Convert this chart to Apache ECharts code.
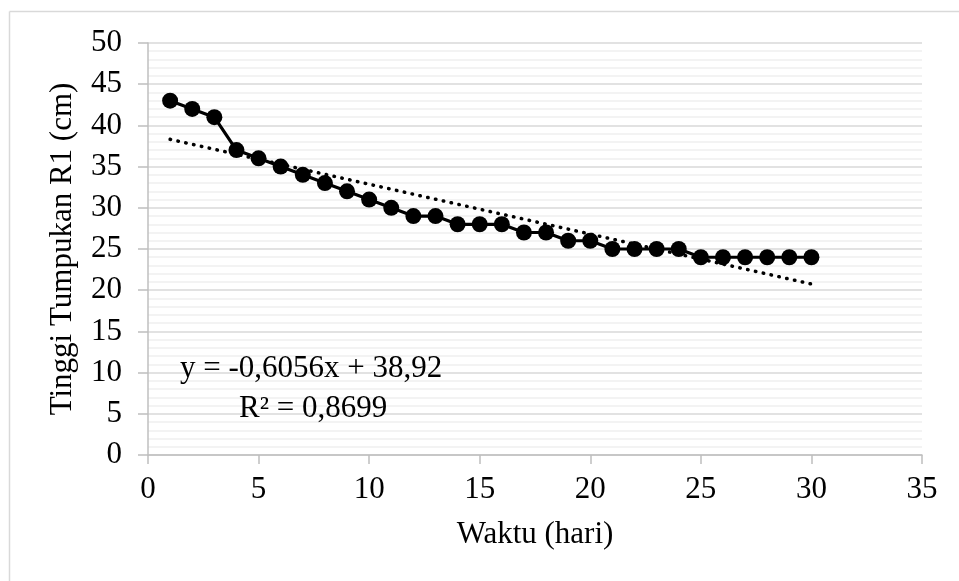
<!DOCTYPE html>
<html>
<head>
<meta charset="utf-8">
<script src="https://cdn.jsdelivr.net/npm/echarts@6/dist/echarts.min.js"></script>
<style>
html,body{margin:0;padding:0;background:#fff;}
#c{width:959px;height:581px;}
</style>
</head>
<body>
<div id="c"></div>
<script>
const days = [1,2,3,4,5,6,7,8,9,10,11,12,13,14,15,16,17,18,19,20,21,22,23,24,25,26,27,28,29,30];
const heights = [43,42,41,37,36,35,34,33,32,31,30,29,29,28,28,28,27,27,26,26,25,25,25,25,24,24,24,24,24,24];
const trendX = [1, 30];
const trendY = [38.31, 20.75];
const eqText = 'y = -0,6056x + 38,92';
const r2Text = 'R² = 0,8699';
const xTitle = 'Waktu (hari)';
const yTitle = 'Tinggi Tumpukan R1 (cm)';

const font = '"Liberation Serif","Times New Roman",serif';
const FS = 31;
const chart = echarts.init(document.getElementById('c'), null, {renderer:'canvas'});
chart.setOption({
  animation:false,
  backgroundColor:'#fff',
  grid:{left:148,right:37,top:43,bottom:126},
  xAxis:{
    type:'value',min:0,max:35,interval:5,
    name:xTitle,nameLocation:'middle',nameGap:64,
    nameTextStyle:{fontFamily:font,fontSize:FS,color:'#000'},
    axisLine:{show:true,lineStyle:{color:'#bfbfbf',width:1.5}},
    axisTick:{show:true,length:9,lineStyle:{color:'#bfbfbf',width:1.5}},
    axisLabel:{fontFamily:font,fontSize:FS,color:'#000',margin:19},
    splitLine:{show:false}
  },
  yAxis:{
    type:'value',min:0,max:50,interval:5,
    name:yTitle,nameLocation:'middle',nameGap:70,
    nameTextStyle:{fontFamily:font,fontSize:FS,color:'#000'},
    axisLine:{show:true,lineStyle:{color:'#bfbfbf',width:1.5}},
    axisTick:{show:true,length:10,lineStyle:{color:'#bfbfbf',width:1.5}},
    axisLabel:{fontFamily:font,fontSize:FS,color:'#000',margin:26},
    splitLine:{show:true,lineStyle:{color:'#d9d9d9',width:1.5}},
    minorTick:{show:false,splitNumber:5},
    minorSplitLine:{show:true,lineStyle:{color:'#efefef',width:1.5}}
  },
  series:[
    {
      type:'line',
      data:days.map((d,i)=>[d,heights[i]]),
      symbol:'circle',symbolSize:16,
      itemStyle:{color:'#000'},
      lineStyle:{color:'#000',width:3.2},
      z:3
    },
    {
      type:'line',
      data:trendX.map((d,i)=>[d,trendY[i]]),
      symbol:'none',
      lineStyle:{color:'#000',width:3.5,type:[0.5,7.5],cap:'round'},
      z:4
    }
  ],
  graphic:[
    {type:'line',z:100,shape:{x1:9.5,y1:11.5,x2:959,y2:11.5},style:{stroke:'#d9d9d9',lineWidth:1.5}},
    {type:'line',z:100,shape:{x1:9.5,y1:11.5,x2:9.5,y2:581},style:{stroke:'#d9d9d9',lineWidth:1.5}},
    {type:'text',z:100,left:180,top:353,style:{text:eqText,font:FS+'px '+font,fill:'#000'}},
    {type:'text',z:100,left:239,top:393,style:{text:r2Text,font:FS+'px '+font,fill:'#000'}}
  ]
});
</script>
</body>
</html>
